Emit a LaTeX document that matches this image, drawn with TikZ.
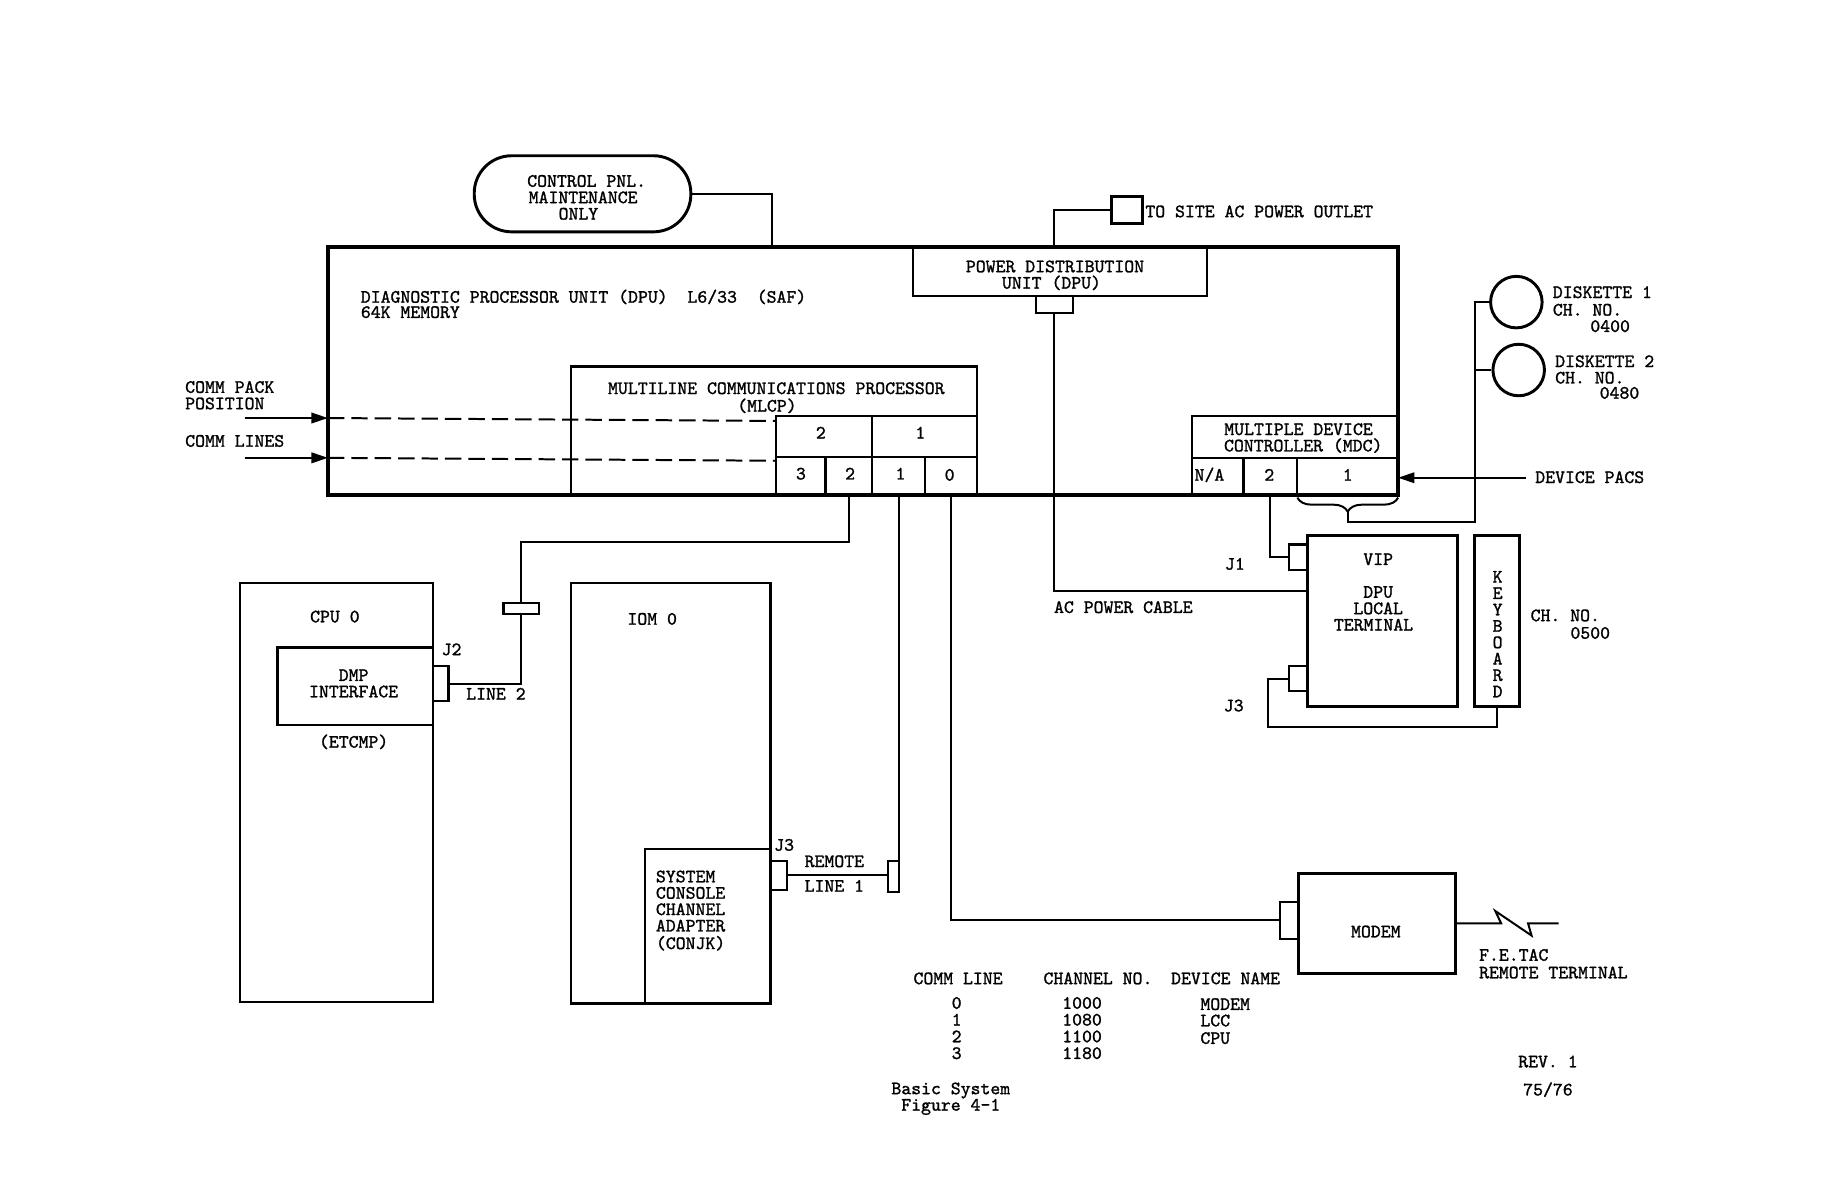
\documentclass[tikz,border=0pt]{standalone}
\usepackage{fontspec}
\usetikzlibrary{decorations.pathreplacing,arrows.meta}
\newfontfamily\dmono[FakeBold=1.3]{lmmono10-regular.otf}
\newcommand\dfont{\dmono\fontsize{16.1pt}{14pt}\selectfont}
\begin{document}
\begin{tikzpicture}[x=1pt,y=-1pt,
  t/.style={inner sep=0pt, font=\dfont, anchor=base},
  tl/.style={inner sep=0pt, font=\dfont, anchor=base west},
  ln/.style={line width=1.7pt},
  bx/.style={draw, line width=1.8pt, inner sep=0pt, outer sep=0pt, anchor=north west},
  hbx/.style={bx, line width=2.5pt},
  arr/.style={ln, -{Triangle[length=14pt,width=9pt]}},
  dsh/.style={ln, dash pattern=on 14pt off 6pt}]
\fill[white] (0,0) rectangle (1568,1015);
\useasboundingbox (0,0) rectangle (1568,1015);

% ---------------- main DPU cabinet ----------------
\node[bx, line width=3.6pt, minimum width=914pt, minimum height=212pt] (dpu) at (280,211) {};
\node[tl] (dputxt) at (308,258.5) {DIAGNOSTIC PROCESSOR UNIT (DPU)~~L6/33~~(SAF)};
\node[tl] (dpumem) at (308,271.5) {64K MEMORY};

% control panel
\node[hbx, rounded corners=32pt, minimum width=185pt, minimum height=65pt] (ctrl) at (405,133) {};
\node[t] (ct1) at (501,159.5) {CONTROL PNL.};
\node[t] (ct2) at (498,173.5) {MAINTENANCE};
\node[t] (ct3) at (494,187.5) {ONLY};
\coordinate (cpin) at (659,211);
\draw[ln] (ctrl.east) -| (cpin);

% power distribution unit
\node[bx, minimum width=251pt, minimum height=42pt] (pdu) at (780,211) {};
\node[t] (pd1) at (901,232.5) {POWER DISTRIBUTION};
\node[t] (pd2) at (898,246.5) {UNIT (DPU)};
\node[bx, minimum width=31pt, minimum height=14pt] (pduc) at (885,253) {};
\node[hbx, minimum width=27pt, minimum height=23pt] (outlet) at (949,168) {};
\node[tl] (outtxt) at (978,185.5) {TO SITE AC POWER OUTLET};
\draw[ln] (pduc.north |- dpu.north) |- (outlet.west);

% MLCP
\node[bx, minimum width=346pt, minimum height=110pt] (mlcp) at (488,313) {};
\node[t] (ml1) at (663,336.5) {MULTILINE COMMUNICATIONS PROCESSOR};
\node[t] (ml2) at (655,351.5) {(MLCP)};
\node[bx, minimum width=82pt, minimum height=35pt] (p2) at (663,355) {};
\node[bx, minimum width=89pt, minimum height=35pt] (p1) at (745,355) {};
\node[bx, minimum width=42pt, minimum height=33pt] (c3) at (663,390) {};
\node[bx, minimum width=40pt, minimum height=33pt] (c2) at (705,390) {};
\node[bx, minimum width=45pt, minimum height=33pt] (c1) at (745,390) {};
\node[bx, minimum width=44pt, minimum height=33pt] (c0) at (790,390) {};
\node[t] (p2t) at (701,374.5) {2};
\node[t] (p1t) at (786,374.5) {1};
\node[t] (c3t) at (684,409.5) {3};
\node[t] (c2t) at (726,409.5) {2};
\node[t] (c1t) at (769,409.5) {1};
\node[t] (c0t) at (811,410.5) {0};

% comm pack / comm lines
\node[tl] (cpk1) at (158,335.5) {COMM PACK};
\node[tl] (cpk2) at (158,349.5) {POSITION};
\node[tl] (cml) at (158,381.5) {COMM LINES};
\coordinate (cpa) at (209,357);
\coordinate (cla) at (209,391);
\coordinate (cpb) at (663,359.5);
\coordinate (clb) at (663,393.5);
\draw[arr] (cpa) -- (dpu.west |- cpa);
\draw[arr] (cla) -- (dpu.west |- cla);
\draw[dsh] (dpu.west |- cpa) -- (cpb);
\draw[dsh] (dpu.west |- cla) -- (clb);

% MDC
\node[bx, minimum width=176pt, minimum height=68pt] (mdc) at (1018,355) {};
\node[t] (md1) at (1109,371.5) {MULTIPLE DEVICE};
\node[t] (md2) at (1113,385.5) {CONTROLLER (MDC)};
\node[bx, minimum width=44pt, minimum height=32pt] (na) at (1018,391) {};
\node[bx, minimum width=46pt, minimum height=32pt] (m2) at (1062,391) {};
\node[bx, minimum width=86pt, minimum height=32pt] (m1) at (1108,391) {};
\node[tl] (nat) at (1020,410.5) {N/A};
\node[t] (m2t) at (1084,410.5) {2};
\node[t] (m1t) at (1151,410.5) {1};

% device pacs
\node[tl] (dpacs) at (1311,412.5) {DEVICE PACS};
\draw[arr] ([xshift=-8pt]dpacs.west |- 0,408) -- (dpu.east |- 0,408);

% brace and diskettes
\draw[ln, decorate, decoration={brace, mirror, amplitude=12pt}] (1108,425) -- (1194,425);
\coordinate (btip) at (1151,437);
\coordinate (dbus) at (1260,446);
\node[draw, circle, line width=2.5pt, minimum size=44pt, inner sep=0pt] (d1) at (1295,258) {};
\node[draw, circle, line width=2.5pt, minimum size=44pt, inner sep=0pt] (d2) at (1297,316) {};
\draw[ln] (btip) |- (dbus) |- (d1.west);
\draw[ln] (dbus |- d2.west) -- (d2.west);
\node[tl] (dk1a) at (1326,254.5) {DISKETTE 1};
\node[tl] (dk1b) at (1326,269.5) {CH. NO.};
\node[tl] (dk1c) at (1358,283.5) {0400};
\node[tl] (dk2a) at (1328,313.5) {DISKETTE 2};
\node[tl] (dk2b) at (1328,327.5) {CH. NO.};
\node[tl] (dk2c) at (1366,340.5) {0480};

% VIP terminal and keyboard
\node[hbx, minimum width=128pt, minimum height=146pt] (vip) at (1117,457) {};
\node[bx, minimum width=16pt, minimum height=22pt] (j1c) at (1101,465) {};
\node[bx, minimum width=16pt, minimum height=21pt] (j3c) at (1101,569) {};
\node[t] (v1) at (1177,482.5) {VIP};
\node[t] (v2) at (1177,510.5) {DPU};
\node[t] (v3) at (1177,524.5) {LOCAL};
\node[t] (v4) at (1173,538.5) {TERMINAL};
\node[tl] (j1t) at (1046,486.5) {J1};
\node[tl] (j3t) at (1045,607.5) {J3};
\node[hbx, minimum width=39pt, minimum height=146pt] (kb) at (1259,457) {};
\foreach \l [count=\i] in {K,E,Y,B,O,A,R,D}
  \node[t] (kb\i) at (1279,483.5+14*\i) {\l};
\node[tl] (kbch) at (1307,530.5) {CH. NO.};
\node[tl] (kbno) at (1341,545.5) {0500};
\draw[ln] (m2.south) |- (j1c.west);
\coordinate (kbl) at (1083,621);
\draw[ln] (j3c.west) -| (kbl) -| (kb.south);

% AC power cable
\coordinate (acin) at (1117,505);
\draw[ln] (pduc.south) |- (acin);
\node[tl] (actxt) at (900,523.5) {AC POWER CABLE};

% CPU 0
\node[bx, minimum width=165pt, minimum height=358pt] (cpu) at (205,498) {};
\node[bx, minimum width=133pt, minimum height=66pt] (dmp) at (237,553) {};
\node[bx, minimum width=13pt, minimum height=30pt] (j2c) at (370,569) {};
\node[t] (cput) at (286,531.5) {CPU 0};
\node[t] (dm1) at (302,581.5) {DMP};
\node[t] (dm2) at (302,595.5) {INTERFACE};
\node[t] (etc) at (302,638.5) {(ETCMP)};
\node[tl] (j2t) at (377,559.5) {J2};
\node[tl] (l2t) at (398,597.5) {LINE 2};
\node[bx, minimum width=30pt, minimum height=9pt] (bar) at (430,515) {};
\coordinate (l2turn) at (445,463);
\draw[ln] (c2.south) |- (l2turn) -- (bar.north);
\draw[ln] (bar.south) |- (j2c.east);

% IOM 0
\node[bx, minimum width=170pt, minimum height=359pt] (iom) at (488,498) {};
\node[bx, minimum width=107pt, minimum height=132pt] (scca) at (551,725) {};
\node[t] (iomt) at (557,533.5) {IOM 0};
\node[tl] (sc1) at (560,753.5) {SYSTEM};
\node[tl] (sc2) at (560,767.5) {CONSOLE};
\node[tl] (sc3) at (560,781.5) {CHANNEL};
\node[tl] (sc4) at (560,795.5) {ADAPTER};
\node[tl] (sc5) at (560,810.5) {(CONJK)};
\node[bx, minimum width=14pt, minimum height=25pt] (j3i) at (658,735) {};
\node[bx, minimum width=10pt, minimum height=27pt] (rem) at (758,735) {};
\node[tl] (j3it) at (661,726.5) {J3};
\node[tl] (rm1) at (687,740.5) {REMOTE};
\node[tl] (rm2) at (687,761.5) {LINE 1};
\draw[ln] (j3i.east) -- (j3i.east -| rem.west);
\draw[ln] (c1.south) -- (c1.south |- rem.north);

% modem
\node[hbx, minimum width=134pt, minimum height=85pt] (modem) at (1109,746) {};
\node[bx, minimum width=16pt, minimum height=32pt] (modc) at (1093,770) {};
\node[t] (modt) at (1175,800.5) {MODEM};
\draw[ln] (c0.south) |- (modc.west);
\coordinate (fetac) at (1331,788.5);
\draw[ln] (modem.east |- fetac) -- (1282,788.5) -- (1277,778) -- (1308,799) -- (1305,788.5) -- (fetac);
\node[tl] (fe1) at (1263,820.5) {F.E.TAC};
\node[tl] (fe2) at (1263,835.5) {REMOTE TERMINAL};

% table
\node[tl] (th1) at (780,840.5) {COMM LINE};
\node[tl] (th2) at (891,840.5) {CHANNEL NO.};
\node[tl] (th3) at (1000,840.5) {DEVICE NAME};
\foreach \n/\c [count=\i from 0] in {0/1000,1/1080,2/1100,3/1180} {
  \node[t] (tl\i) at (817,861.5+14.3*\i) {\n};
  \node[tl] (tc\i) at (907,861.5+14.3*\i) {\c};
}
\node[tl] (td0) at (1025,862.5) {MODEM};
\node[tl] (td1) at (1025,876.5) {LCC};
\node[tl] (td2) at (1025,891.5) {CPU};

% footer
\node[t] (fg1) at (812,934.5) {Basic System};
\node[t] (fg2) at (812,948.5) {Figure 4-1};
\node[t] (rev) at (1322,911.5) {REV. 1};
\node[t] (pg) at (1322,935.5) {75/76};
\end{tikzpicture}
\end{document}
